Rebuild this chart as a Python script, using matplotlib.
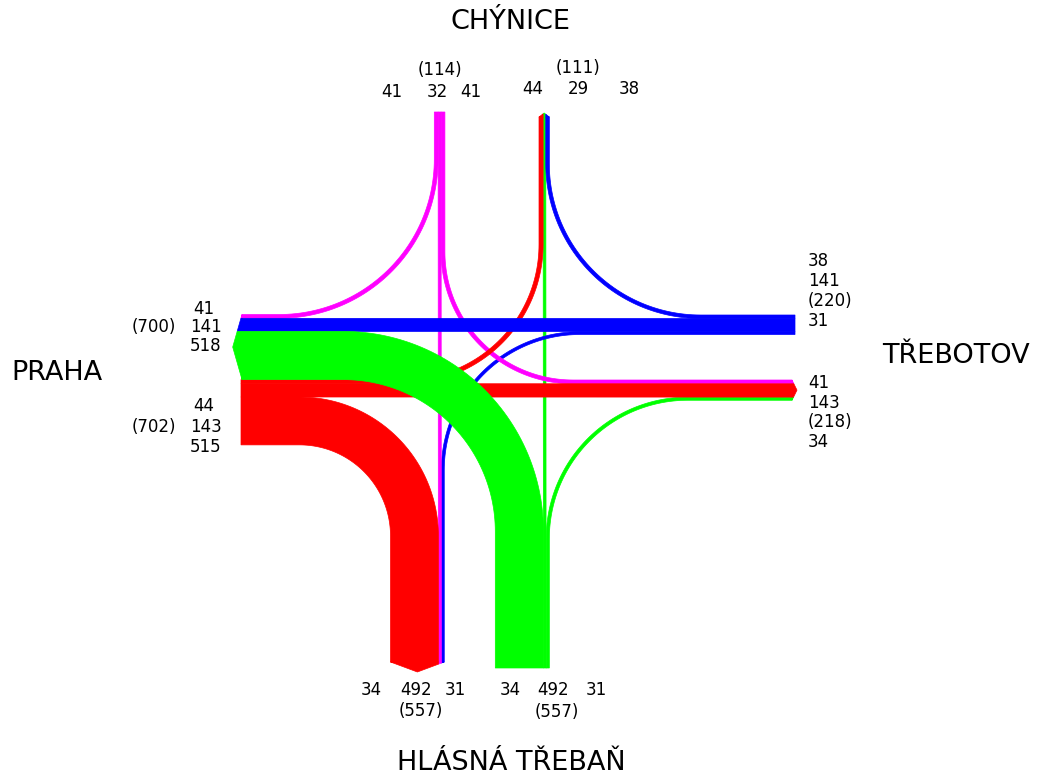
import numpy as np
import matplotlib
matplotlib.use("Agg")
from matplotlib import pyplot as plt
from matplotlib.patches import Polygon

# W = Praha, N = Chýnice, E = Třebotov, S = Hlásná Třebaň
origins = ["W", "W", "W", "N", "N", "N", "E", "E", "E", "S", "S", "S"]
dests = ["N", "E", "S", "W", "S", "E", "N", "W", "S", "W", "N", "E"]
volumes = [41, 141, 518, 44, 29, 38, 41, 143, 34, 515, 32, 31]

place_names = ["CHÝNICE", "PRAHA", "TŘEBOTOV", "HLÁSNÁ TŘEBAŇ"]
north_labels = ["41", "(114)", "32", "41", "44", "(111)", "29", "38"]
west_labels = ["41", "(700)", "141", "518", "44", "(702)", "143", "515"]
east_labels = ["38", "141", "(220)", "31", "41", "143", "(218)", "34"]
south_labels = ["34", "492", "31", "(557)", "34", "492", "31", "(557)"]

# ---- layout (pixels) ----
SCALE = 0.093
colors = {"N": "#ff00ff", "E": "#0000ff", "S": "#00ff00", "W": "#ff0000"}
arms = {
    "W": dict(horiz=True, out=-1, end_dest=241, end_orig=242, start_dest=379.6, start_orig=314.5, tip=9.3),
    "E": dict(horiz=True, out=1, end_dest=795, end_orig=792, start_dest=315.0, start_orig=380.0, tip=5),
    "N": dict(horiz=False, out=-1, end_dest=112, end_orig=117, start_dest=434.3, start_orig=539.0, tip=4),
    "S": dict(horiz=False, out=1, end_dest=668, end_orig=662, start_dest=495.3, start_orig=390.5, tip=10),
}
opposite = {"W": "E", "E": "W", "N": "S", "S": "N"}
radius = {("W", "N"): 157, ("W", "S"): 176, ("N", "W"): 137, ("N", "E"): 153,
          ("E", "N"): 130, ("E", "S"): 140, ("S", "W"): 115, ("S", "E"): 137}

name_xy = [(510, 22), (57, 373), (956, 356), (511, 763)]
north_xy = [(392, 92), (440, 70), (437, 92), (471, 92), (533, 89), (578, 68), (578, 89), (629, 89)]
west_xy = [(204, 309), (154, 327), (206, 327), (206, 346), (204, 406), (154, 427), (206, 427), (206, 447)]
east_xy = [(808, 261), (808, 281), (808, 301), (808, 321), (808, 383), (808, 403), (808, 422), (808, 442)]
south_xy = [(371, 690), (416, 690), (455, 690), (421, 711), (510, 690), (553, 690), (596, 690), (557, 712)]


def order(a):
    return ["N", opposite[a], "S"] if arms[a]["horiz"] else ["W", opposite[a], "E"]


def lanes(a, kind):
    # kind 'orig': flows leaving from arm a, 'dest': flows arriving at arm a
    pos = arms[a]["start_" + kind]
    res = {}
    for other in order(a):
        for o, d, v in zip(origins, dests, volumes):
            if (kind == "orig" and o == a and d == other) or (kind == "dest" and d == a and o == other):
                res[other] = (pos, pos + v * SCALE)
                pos += v * SCALE
    return res


def xy(a, along, across):
    return (along, across) if arms[a]["horiz"] else (across, along)


def turn_edge(xh, yc, xc, yv, R, k):
    dh = np.sign(xh - xc)
    dv = np.sign(yv - yc)
    cx, cy = xc + dh * R, yc + dv * R
    r = R - dv * k
    a1 = np.arctan2(-dv, 0)
    a2 = np.arctan2(0, -dh)
    delta = (a2 - a1 + np.pi) % (2 * np.pi) - np.pi
    t = a1 + delta * np.linspace(0, 1, 60)
    pts = [(xh, yc + k)]
    pts += list(zip(cx + r * np.cos(t), cy + r * np.sin(t)))
    pts.append((cx - dh * r, yv))
    return pts


fig = plt.figure(figsize=(10.38, 7.78), dpi=100)
ax = fig.add_axes([0, 0, 1, 1])
ax.set_xlim(0, 1038)
ax.set_ylim(778, 0)
ax.axis("off")

for o, d, v in zip(origins, dests, volumes):
    col = colors[d]
    lo_o, hi_o = lanes(o, "orig")[d]
    lo_d, hi_d = lanes(d, "dest")[o]
    eo, ed = arms[o]["end_orig"], arms[d]["end_dest"]
    if opposite[o] == d:
        pts = [xy(o, eo, lo_o), xy(o, ed, lo_d), xy(o, ed, hi_d), xy(o, eo, hi_o)]
    else:
        w = v * SCALE
        if arms[o]["horiz"]:
            xh, yc, xc, yv = eo, (lo_o + hi_o) / 2, (lo_d + hi_d) / 2, ed
        else:
            xh, yc, xc, yv = ed, (lo_d + hi_d) / 2, (lo_o + hi_o) / 2, eo
        R = radius[(o, d)]
        pts = turn_edge(xh, yc, xc, yv, R, w / 2) + turn_edge(xh, yc, xc, yv, R, -w / 2)[::-1]
    ax.add_patch(Polygon(pts, closed=True, facecolor=col, edgecolor=col, linewidth=0.5, zorder=v))

    # arrow-like cap at the origin end of each group
    grp = lanes(o, "orig")
    g0 = min(l for l, h in grp.values())
    g1 = max(h for l, h in grp.values())
    m, hw = (g0 + g1) / 2, (g1 - g0) / 2
    u = np.linspace(lo_o, hi_o, 30)
    if lo_o < m < hi_o:
        u = np.sort(np.append(u, m))
    tip = eo + arms[o]["out"] * arms[o]["tip"] * (1 - np.abs(u - m) / hw)
    cap = [xy(o, eo, lo_o), xy(o, eo, hi_o)] + [xy(o, p, q) for p, q in zip(tip[::-1], u[::-1])]
    ax.add_patch(Polygon(cap, closed=True, facecolor=col, edgecolor=col, linewidth=0.5, zorder=v))

num_font = dict(fontsize=12, family="DejaVu Sans", color="black", zorder=1000)
for txt, (x, y) in zip(place_names, name_xy):
    ax.text(x, y, txt, ha="center", va="center", fontsize=19.5, family="DejaVu Sans", zorder=1000)
for txt, (x, y) in zip(north_labels + west_labels + south_labels, north_xy + west_xy + south_xy):
    ax.text(x, y, txt, ha="center", va="center", **num_font)
for txt, (x, y) in zip(east_labels, east_xy):
    ax.text(x, y, txt, ha="left", va="center", **num_font)

fig.savefig("out.png", dpi=100)
